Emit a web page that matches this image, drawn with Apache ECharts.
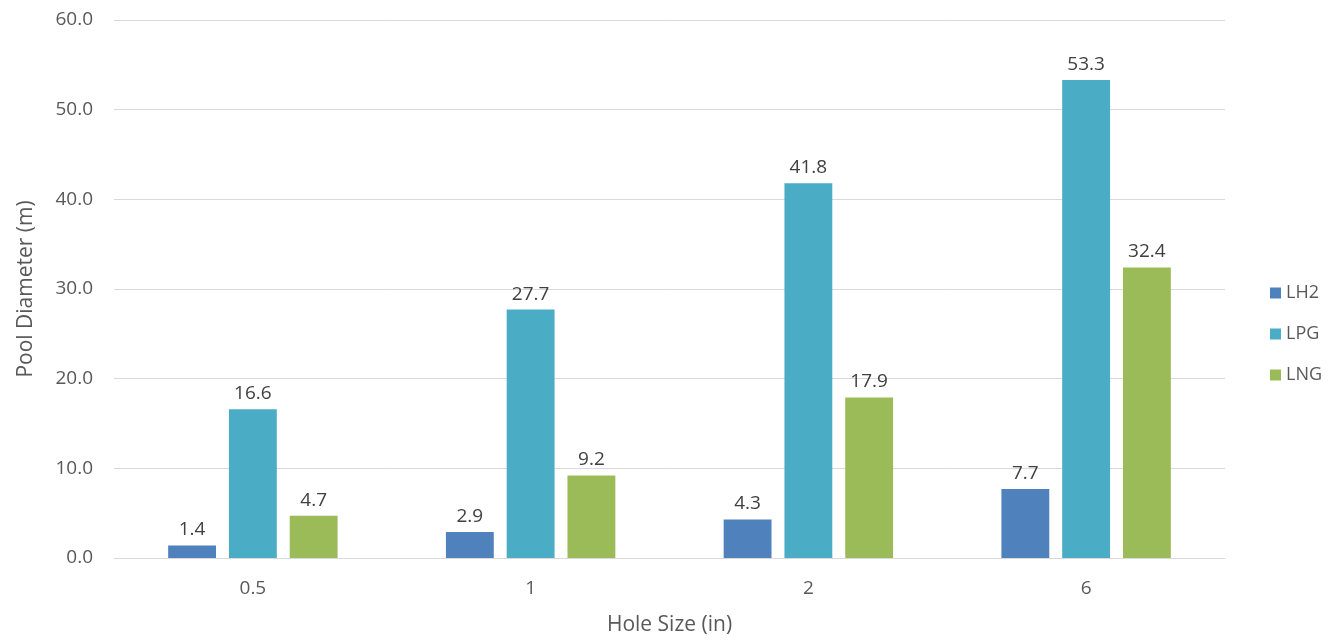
<!DOCTYPE html>
<html><head><meta charset="utf-8">
<script src="https://cdn.jsdelivr.net/npm/echarts@6/dist/echarts.min.js"></script>
<style>html,body{margin:0;padding:0;background:#fff}#c{width:1342px;height:641px}</style>
</head><body><div id="c"></div>
<script>
const categories = ['0.5', '1', '2', '6'];
const seriesNames = ['LH2', 'LPG', 'LNG'];
const lh2 = [1.4, 2.9, 4.3, 7.7];
const lpg = [16.6, 27.7, 41.8, 53.3];
const lng = [4.7, 9.2, 17.9, 32.4];
const colors = ['#4f81bd', '#4bacc6', '#9bbb59'];
const font = 'Open Sans, sans-serif';
const chart = echarts.init(document.getElementById('c'));
const mk = (name, data, color) => ({
  name, type: 'bar', data, barGap: '27%', barCategoryGap: '39%',
  itemStyle: { color },
  label: { show: true, position: 'top', distance: 6, color: '#404040', fontSize: 19, fontFamily: font,
    formatter: p => p.value.toFixed(1) }
});
chart.setOption({
  animation: false,
  textStyle: { fontFamily: font },
  grid: { left: 114, right: 117, top: 20, bottom: 81 },
  legend: {
    orient: 'vertical', left: 1265, top: 279, itemGap: 23, itemWidth: 11, itemHeight: 11,
    icon: 'rect', textStyle: { color: '#595959', fontSize: 18, fontFamily: font },
    data: seriesNames
  },
  xAxis: {
    type: 'category', data: categories,
    name: 'Hole Size (in)', nameLocation: 'middle', nameGap: 57,
    nameTextStyle: { color: '#595959', fontSize: 21, fontFamily: font },
    axisLine: { lineStyle: { color: '#d9d9d9' } }, axisTick: { show: false },
    axisLabel: { color: '#595959', fontSize: 19, margin: 21, fontFamily: font }
  },
  yAxis: {
    type: 'value', min: 0, max: 60, interval: 10,
    name: 'Pool Diameter (m)', nameLocation: 'middle', nameGap: 77,
    nameTextStyle: { color: '#595959', fontSize: 21, fontFamily: font },
    axisLine: { show: false }, axisTick: { show: false },
    axisLabel: { color: '#595959', fontSize: 19, margin: 21, fontFamily: font, formatter: v => v.toFixed(1) },
    splitLine: { lineStyle: { color: '#d9d9d9' } }
  },
  series: [mk(seriesNames[0], lh2, colors[0]), mk(seriesNames[1], lpg, colors[1]), mk(seriesNames[2], lng, colors[2])]
});
</script></body></html>
